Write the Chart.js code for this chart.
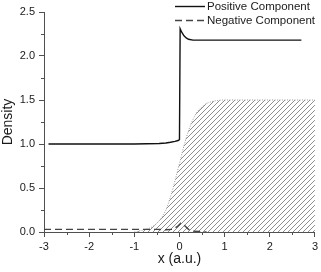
<!DOCTYPE html>
<html>
<head>
<meta charset="utf-8">
<script src="https://cdn.jsdelivr.net/npm/chart.js@4.4.1/dist/chart.umd.min.js"></script>
<style>
  html, body { margin: 0; padding: 0; background: #fff; }
</style>
</head>
<body>
<canvas id="densityChart" width="321" height="272"></canvas>
<script>
// positive component (solid)
const posX = [-2.9, -1.0, -0.45, -0.3, -0.2, -0.1, -0.03, 0.0, 0.015, 0.05, 0.1, 0.15, 0.2, 0.3, 0.5, 1.5, 2.7];
const posY = [1.0, 1.0, 1.005, 1.012, 1.02, 1.03, 1.04, 1.05, 2.31, 2.27, 2.23, 2.205, 2.19, 2.18, 2.18, 2.18, 2.18];

// negative component (dashed)
const negX = [-3.0, -1.0, -0.5, -0.3, -0.15, -0.05, 0.03, 0.1, 0.2, 0.3, 0.45, 0.6];
const negY = [0.03, 0.03, 0.03, 0.025, 0.03, 0.06, 0.1, 0.08, 0.03, 0.01, 0.005, 0.0];

// hatched area
const areaX = [-1.0, -0.9, -0.75, -0.6, -0.5, -0.4, -0.3, -0.2, -0.1, 0.0, 0.1, 0.2, 0.3, 0.4, 0.5, 0.6, 0.7, 0.85, 1.0, 3.0];
const areaY = [0.0, 0.01, 0.03, 0.06, 0.1, 0.16, 0.25, 0.4, 0.58, 0.78, 0.98, 1.15, 1.28, 1.37, 1.42, 1.46, 1.48, 1.495, 1.5, 1.5];

const seriesNames = ['Positive Component', 'Negative Component'];

const xMinor = [-2.5, -1.5, -0.5, 0.5, 1.5, 2.5];
const yMinor = [0.25, 0.75, 1.25, 1.75, 2.25];

const axisColor = '#505050';
const textColor = '#1a1a1a';
const fontFamily = '"Liberation Sans", Arial, sans-serif';

const toPoints = (xs, ys) => xs.map((x, i) => ({ x: x, y: ys[i] }));

// diagonal hatch pattern
function makeHatch() {
  const s = 5;
  const c = document.createElement('canvas');
  c.width = s; c.height = s;
  const g = c.getContext('2d');
  g.strokeStyle = '#808080';
  g.lineWidth = 0.9;
  g.beginPath();
  g.moveTo(0, s); g.lineTo(s, 0);
  g.moveTo(-1, 1); g.lineTo(1, -1);
  g.moveTo(s - 1, s + 1); g.lineTo(s + 1, s - 1);
  g.stroke();
  return g.createPattern(c, 'repeat');
}

const minorTicks = {
  id: 'minorTicks',
  afterDraw(chart) {
    const { ctx, scales: { x, y } } = chart;
    ctx.save();
    ctx.strokeStyle = axisColor;
    ctx.lineWidth = 1;
    ctx.beginPath();
    yMinor.forEach(v => {
      const py = Math.round(y.getPixelForValue(v)) + 0.5;
      ctx.moveTo(y.right - 3, py);
      ctx.lineTo(y.right, py);
    });
    xMinor.forEach(v => {
      const px = Math.round(x.getPixelForValue(v)) + 0.5;
      ctx.moveTo(px, x.top);
      ctx.lineTo(px, x.top + 3);
    });
    ctx.stroke();
    ctx.restore();
  }
};

// legend in the top right corner
const cornerLegend = {
  id: 'cornerLegend',
  afterDraw(chart) {
    const ctx = chart.ctx;
    ctx.save();
    ctx.font = '11.5px ' + fontFamily;
    ctx.fillStyle = textColor;
    ctx.textBaseline = 'middle';
    [0, 1].forEach(i => {
      const ds = chart.data.datasets[i];
      const yy = 6 + i * 14;
      ctx.strokeStyle = ds.borderColor;
      ctx.lineWidth = ds.borderWidth;
      ctx.setLineDash(ds.borderDash || []);
      ctx.beginPath();
      ctx.moveTo(175, yy + 0.5);
      ctx.lineTo(205, yy + 0.5);
      ctx.stroke();
      ctx.fillText(ds.label, 207, yy + 1);
    });
    ctx.restore();
  }
};

new Chart(document.getElementById('densityChart'), {
  type: 'line',
  data: {
    datasets: [
      {
        label: seriesNames[0],
        data: toPoints(posX, posY),
        borderColor: '#111',
        borderWidth: 1.4,
        pointRadius: 0,
        tension: 0,
        fill: false
      },
      {
        label: seriesNames[1],
        data: toPoints(negX, negY),
        borderColor: '#444',
        borderWidth: 1.4,
        borderDash: [7, 4],
        pointRadius: 0,
        tension: 0,
        fill: false
      },
      {
        label: 'area',
        data: toPoints(areaX, areaY),
        borderColor: '#9a9a9a',
        borderWidth: 1,
        borderDash: [1, 1.5],
        backgroundColor: makeHatch(),
        pointRadius: 0,
        cubicInterpolationMode: 'monotone',
        fill: 'origin'
      }
    ]
  },
  options: {
    responsive: false,
    maintainAspectRatio: false,
    animation: false,
    devicePixelRatio: 1,
    layout: {
      autoPadding: false,
      padding: { top: 12, right: 4, left: 0, bottom: 0 }
    },
    plugins: {
      legend: { display: false },
      tooltip: { enabled: false }
    },
    scales: {
      x: {
        type: 'linear',
        min: -3,
        max: 3,
        afterFit: s => { s.height = 40; },
        grid: { drawOnChartArea: false, drawTicks: true, tickLength: 5, tickColor: axisColor },
        border: { display: true, color: axisColor, width: 1 },
        ticks: {
          stepSize: 1,
          padding: 3,
          color: textColor,
          font: { family: fontFamily, size: 11 },
          maxRotation: 0,
          callback: v => String(v)
        },
        title: {
          display: true,
          text: 'x (a.u.)',
          color: textColor,
          font: { family: fontFamily, size: 14 },
          padding: { top: 0, bottom: 4 }
        }
      },
      y: {
        min: 0,
        max: 2.5,
        afterFit: s => { s.width = 44; },
        grid: { drawOnChartArea: false, drawTicks: true, tickLength: 5, tickColor: axisColor },
        border: { display: true, color: axisColor, width: 1 },
        ticks: {
          stepSize: 0.5,
          padding: 4,
          color: textColor,
          font: { family: fontFamily, size: 11 },
          callback: v => v.toFixed(1)
        },
        title: {
          display: true,
          text: 'Density',
          color: textColor,
          font: { family: fontFamily, size: 14 },
          padding: { top: 0, bottom: 0 }
        }
      }
    }
  },
  plugins: [minorTicks, cornerLegend]
});
</script>
</body>
</html>
